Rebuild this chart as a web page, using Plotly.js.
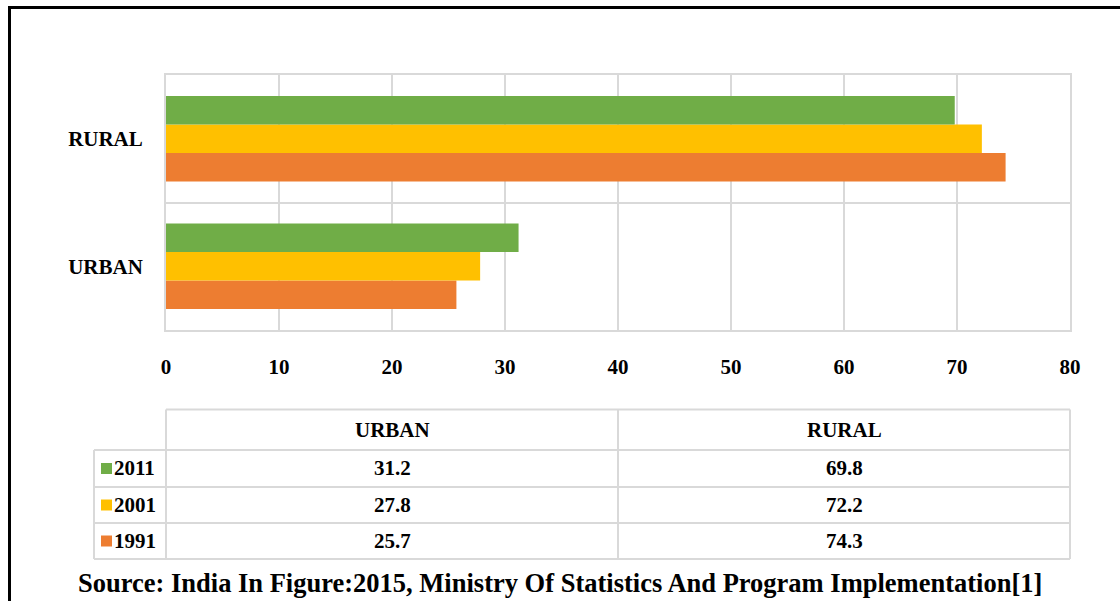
<!DOCTYPE html>
<html>
<head>
<meta charset="utf-8">
<script src="https://cdn.plot.ly/plotly-3.0.1.min.js"></script>
<style>html,body{margin:0;padding:0;background:#fff;}#chart{width:1120px;height:601px;}</style>
</head>
<body>
<div id="chart"></div>
<script>
const categories = ['URBAN', 'RURAL'];
const years = ['1991', '2001', '2011'];
const values1991 = [25.7, 74.3];
const values2001 = [27.8, 72.2];
const values2011 = [31.2, 69.8];
const xTicks = [0, 10, 20, 30, 40, 50, 60, 70, 80];
const sourceText = 'Source: India In Figure:2015, Ministry Of Statistics And Program Implementation[1]';

const seriesValues = [values1991, values2001, values2011];
const seriesColors = ['#ED7D31', '#FFC000', '#70AD47'];

const W = 1120, H = 601;
const L = 166, R = 1070, T = 75, B = 330;
const PW = R - L, PH = B - T;
const px = v => (v - L) / PW;
const py = v => (B - v) / PH;
const FONT = 'Liberation Serif, Times New Roman, serif';
const GRID = '#d9d9d9';

const traces = years.map((yr, i) => ({
  type: 'bar', orientation: 'h', name: yr,
  y: categories, x: seriesValues[i],
  marker: {color: seriesColors[i], line: {width: 0}},
  hoverinfo: 'x+name'
}));

const shapes = [];
const annotations = [];
function hline(y, x0, x1) {
  shapes.push({type: 'line', xref: 'paper', yref: 'paper', x0: px(x0), x1: px(x1), y0: py(y), y1: py(y), line: {color: GRID, width: 2}});
}
function vline(x, y0, y1) {
  shapes.push({type: 'line', xref: 'paper', yref: 'paper', x0: px(x), x1: px(x), y0: py(y0), y1: py(y1), line: {color: GRID, width: 2}});
}
// Data table grid
const tTop = 409.5, hdrBot = 450, rowYs = [450, 487, 523, 559];
const legL = 94, mid = 618;
hline(tTop, L, R);
rowYs.forEach(y => hline(y, legL, R));
vline(legL, hdrBot, 559);
vline(L, tTop, 559);
vline(mid, tTop, 559);
vline(R, tTop, 559);

const colCenters = [(L + mid) / 2, (mid + R) / 2];
categories.forEach((c, j) => {
  annotations.push({xref: 'paper', yref: 'paper', x: px(colCenters[j]), y: py(430), text: c, showarrow: false,
    xanchor: 'center', yanchor: 'middle', font: {family: FONT, size: 21, color: '#000', weight: 'bold'}});
});
// Rows in order 2011, 2001, 1991
const rowOrder = [2, 1, 0];
rowOrder.forEach((si, r) => {
  const yc = (rowYs[r] + rowYs[r + 1]) / 2;
  shapes.push({type: 'rect', xref: 'paper', yref: 'paper', x0: px(101), x1: px(112), y0: py(yc - 5.5), y1: py(yc + 5.5),
    fillcolor: seriesColors[si], line: {width: 0}});
  annotations.push({xref: 'paper', yref: 'paper', x: px(112), y: py(yc), text: years[si], showarrow: false,
    xanchor: 'left', yanchor: 'middle', font: {family: FONT, size: 21, color: '#000', weight: 'bold'}});
  seriesValues[si].forEach((v, j) => {
    annotations.push({xref: 'paper', yref: 'paper', x: px(colCenters[j]), y: py(yc), text: v.toFixed(1), showarrow: false,
      xanchor: 'center', yanchor: 'middle', font: {family: FONT, size: 21, color: '#000', weight: 'bold'}});
  });
});
// Source
annotations.push({xref: 'paper', yref: 'paper', x: px(560), y: py(583), text: sourceText, showarrow: false,
  xanchor: 'center', yanchor: 'middle', font: {family: FONT, size: 26.5, color: '#000', weight: 'bold'}});
// Outer border
shapes.push({type: 'rect', xref: 'paper', yref: 'paper', x0: px(9.5), x1: px(1130), y0: py(7.5), y1: py(620),
  line: {color: '#000', width: 3}, fillcolor: 'rgba(0,0,0,0)'});

const layout = {
  width: W, height: H,
  margin: {l: L, r: W - R, t: T, b: H - B, pad: 0},
  paper_bgcolor: '#fff', plot_bgcolor: '#fff',
  barmode: 'group', bargap: 0.33, bargroupgap: 0,
  showlegend: false,
  xaxis: {
    range: [0, 80], tickvals: xTicks, ticktext: xTicks.map(String),
    showgrid: true, gridcolor: GRID, gridwidth: 2, zeroline: false,
    showline: true, linecolor: GRID, linewidth: 2, mirror: true,
    ticks: '', ticklabelstandoff: 17,
    tickfont: {family: FONT, size: 21, color: '#000', weight: 'bold'},
    fixedrange: true
  },
  yaxis: {
    type: 'category', categoryorder: 'array', categoryarray: categories,
    tickson: 'boundaries', showgrid: true, gridcolor: GRID, gridwidth: 2,
    showline: true, linecolor: GRID, linewidth: 2, mirror: true,
    ticks: '', ticklabelstandoff: 17,
    tickfont: {family: FONT, size: 21, color: '#000', weight: 'bold'},
    fixedrange: true
  },
  shapes: shapes,
  annotations: annotations
};

Plotly.newPlot('chart', traces, layout, {displayModeBar: false, staticPlot: true});
</script>
</body>
</html>
